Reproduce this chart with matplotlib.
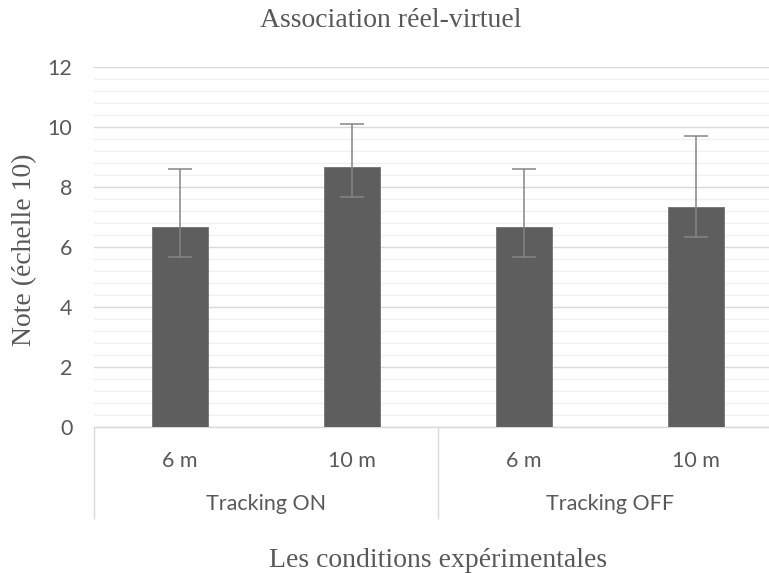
import numpy as np
import matplotlib
matplotlib.use('Agg')
import matplotlib.pyplot as plt
from matplotlib.ticker import MultipleLocator

# Data
distances = ['6 m', '10 m', '6 m', '10 m']
groups = ['Tracking ON', 'Tracking OFF']
notes = [6.67, 8.67, 6.67, 7.33]
err_low = [1.0, 1.0, 1.0, 1.0]
err_high = [1.94, 1.44, 1.94, 2.36]

W, H = 769, 573
fig = plt.figure(figsize=(W / 100, H / 100), dpi=100)

# plot area in pixels (the right side runs past the picture edge, as in the reference)
left, right, top, bottom = 94, 782, 67, 427
ax = fig.add_axes([left / W, 1 - bottom / H, (right - left) / W, (bottom - top) / H])

sans = 'Lato'
serif = 'Liberation Serif'
txt_col = '#595959'
fs_tick = 15.5
fs_title = 20

x = np.arange(len(notes))
ax.bar(x, notes, width=0.33, color='#5e5e5e', edgecolor='#7a7a7a', linewidth=0.7, zorder=3)
ax.errorbar(x, notes, yerr=[err_low, err_high], fmt='none', ecolor='#858585',
            elinewidth=1.1, capsize=8.5, capthick=1.1, zorder=4)

ax.set_xlim(-0.5, len(notes) - 0.5)
ax.set_ylim(0, 12)
ax.yaxis.set_major_locator(MultipleLocator(2))
ax.yaxis.set_minor_locator(MultipleLocator(0.4))
ax.grid(axis='y', which='major', color='#d9d9d9', linewidth=1.0, zorder=0)
ax.grid(axis='y', which='minor', color='#f0f0f0', linewidth=1.0, zorder=0)
ax.set_axisbelow(True)

for s in ['top', 'right', 'left']:
    ax.spines[s].set_visible(False)
ax.spines['bottom'].set_color('#d9d9d9')
ax.spines['bottom'].set_linewidth(1.0)

ax.tick_params(axis='y', which='both', length=0, pad=15.5, labelsize=fs_tick, labelcolor=txt_col)
ax.tick_params(axis='x', which='both', length=0, pad=17, labelsize=fs_tick, labelcolor=txt_col)
ax.set_xticks(x)
ax.set_xticklabels(distances)
for lab in ax.get_xticklabels() + ax.get_yticklabels():
    lab.set_fontfamily(sans)

# second row of the category axis: group names and separator lines
per_group = len(distances) // len(groups)
sec = ax.secondary_xaxis('bottom')
bounds = [i * per_group - 0.5 for i in range(len(groups) + 1)]
sec.set_xticks(bounds)
sec.set_xticklabels([''] * len(bounds))
sec.tick_params(axis='x', which='major', length=66, width=1.0, color='#d9d9d9', direction='out')
centers = [i * per_group + (per_group - 1) / 2 for i in range(len(groups))]
sec.set_xticks(centers, minor=True)
sec.set_xticklabels(groups, minor=True)
sec.tick_params(axis='x', which='minor', length=0, pad=48, labelsize=fs_tick, labelcolor=txt_col)
for lab in sec.get_xticklabels(minor=True):
    lab.set_fontfamily(sans)
sec.spines['bottom'].set_visible(False)

fig.text(391 / W, 1 - 27 / H, 'Association réel-virtuel', ha='center', va='baseline',
         fontsize=fs_title, color=txt_col, family=serif)
fig.text(((left + right) / 2) / W, 1 - 567 / H, 'Les conditions expérimentales', ha='center',
         va='baseline', fontsize=fs_title, color=txt_col, family=serif)
fig.text(25 / W, 1 - 250 / H, 'Note (échelle 10)', ha='center', va='center', rotation=90,
         fontsize=fs_title, color=txt_col, family=serif)

fig.savefig('out.png', dpi=100)
